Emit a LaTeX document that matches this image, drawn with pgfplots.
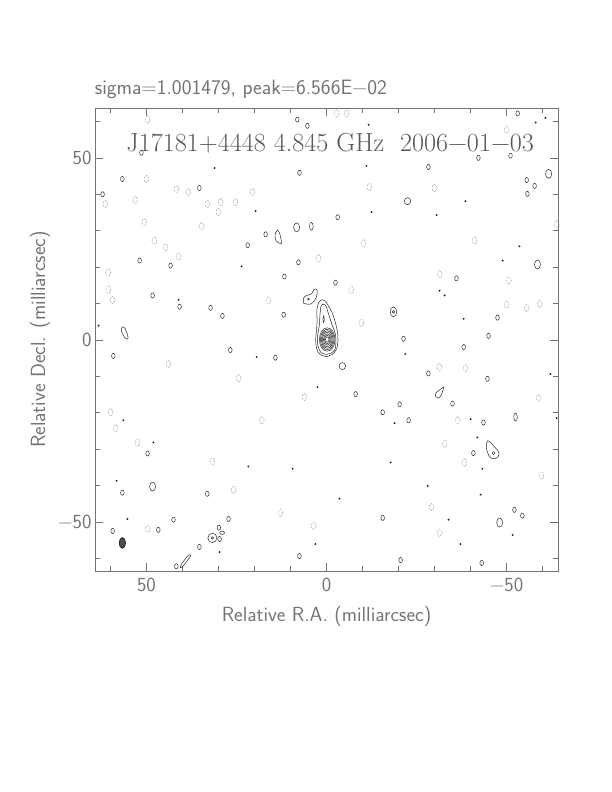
\documentclass[border=0pt]{standalone}
\usepackage{fontspec}
\usepackage{pgfplots}
\pgfplotsset{compat=1.18}
\definecolor{axgray}{gray}{0.45}
\definecolor{cgray}{gray}{0.15}
\definecolor{ngray}{gray}{0.45}
\begin{document}
\begin{tikzpicture}
\path[use as bounding box] (-95bp,-221bp) rectangle (517bp,571bp);
\begin{axis}[
  at={(0,0)}, anchor=south west,
  scale only axis, width=463bp, height=463bp,
  xmin=-64.3, xmax=64.3, x dir=reverse,
  ymin=-63.5, ymax=63.7,
  axis line style={axgray, line width=0.6bp},
  xtick={-50,0,50}, xticklabels={−50,0,50},
  ytick={-50,0,50}, yticklabels={−50,0,50},
  minor xtick={-60,-40,-30,-20,-10,10,20,30,40,60},
  minor ytick={-60,-40,-30,-20,-10,10,20,30,40,60},
  tick align=inside,
  major tick length=8bp, minor tick length=5bp,
  tick style={axgray, line width=0.6bp},
  ticklabel style={font=\sffamily\fontsize{20bp}{22bp}\selectfont, text=axgray},
  xticklabel style={yshift=-4bp},
  label style={font=\sffamily\fontsize{20.5bp}{23bp}\selectfont, text=axgray},
  xlabel={Relative R.A. (milliarcsec)},
  ylabel={Relative Decl. (milliarcsec)},
  xlabel style={at={(axis description cs:0.5,-0.099)}, anchor=center},
  ylabel style={at={(axis description cs:-0.119,0.5)}, anchor=center, rotate=0},
  clip mode=individual,
  cont/.style={cgray, line width=0.5bp},
]
% --- main source: outer contours
\addplot[cont, smooth, tension=0.55] coordinates {(0,-4.6) (1.8,-4.0) (2.7,-2.5) (3.0,0) (2.8,2.5) (2.6,5) (2.7,8) (2.2,10.2) (1.3,11) (0.3,10.6) (-0.6,9.2) (-1.6,7.4) (-2.4,5.0) (-3.0,2.5) (-3.2,0) (-2.8,-2.5) (-1.6,-4.0) (0,-4.6)};
\addplot[cont, smooth, tension=0.55] coordinates {(0,-4.0) (1.6,-3.4) (2.4,-1.5) (2.5,1) (2.0,4) (1.8,7) (1.5,9.3) (0.8,9.8) (0.1,9.2) (-0.6,7) (-1.6,4) (-2.5,1.5) (-2.6,-1) (-2.3,-2.8) (-1.4,-3.6) (0,-4.0)};
\addplot[cont, smooth] coordinates {(0.8,4.6) (1.0,5.6) (0.8,6.6) (0.6,5.6) (0.8,4.6)};
% core nested levels
\addplot[cont, only marks, mark=o, mark size=7.8bp, mark options={yscale=1.5}] coordinates {(-0.2,0.1)};
\addplot[cont, only marks, mark=o, mark size=6.8bp, mark options={yscale=1.5}] coordinates {(-0.2,0.1)};
\addplot[cont, only marks, mark=o, mark size=5.8bp, mark options={yscale=1.5}] coordinates {(-0.2,0.1)};
\addplot[cont, only marks, mark=o, mark size=4.8bp, mark options={yscale=1.5}] coordinates {(-0.2,0.1)};
\addplot[cont, only marks, mark=o, mark size=3.8bp, mark options={yscale=1.5}] coordinates {(-0.2,0.1)};
\addplot[cont, only marks, mark=o, mark size=2.8bp, mark options={yscale=1.5}] coordinates {(-0.2,0.1)};
\addplot[cont, only marks, mark=o, mark size=1.8bp, mark options={yscale=1.5}] coordinates {(-0.2,0.1)};
% jet-side component
\addplot[cont, smooth, tension=0.55] coordinates {(6.3,10.0) (6.4,11.4) (5.5,12.2) (4.2,12.6) (3.4,13.9) (2.6,13.7) (2.7,12.2) (3.3,10.8) (4.5,9.8) (6.3,10.0)};
\addplot[cont, only marks, mark=o, mark size=0.9bp] coordinates {(5.0,11.2)};
% irregular components
\addplot[cont, smooth, tension=0.55] coordinates {(-44.8,-27.7) (-45.6,-28.2) (-46.6,-29.4) (-47.6,-30.4) (-47.9,-31.6) (-47.2,-32.5) (-46.0,-32.6) (-45.1,-31.8) (-44.5,-30.2) (-44.4,-28.6) (-44.8,-27.7)};
\addplot[cont, only marks, mark=o, mark size=1.5bp] coordinates {(-46.4,-31.1)};
\addplot[cont, smooth, tension=0.55] coordinates {(-32.6,-12.9) (-32.3,-14.0) (-31.8,-15.3) (-31.0,-16.0) (-30.3,-15.6) (-30.4,-14.6) (-31.2,-13.9) (-32.6,-12.9)};
\addplot[cont, smooth, tension=0.55] coordinates {(56.7,3.6) (57.0,2.5) (56.0,0.6) (55.2,0.3) (55.2,1.2) (56.0,3.2) (56.7,3.6)};
\addplot[cont, smooth, tension=0.4] coordinates {(40.6,-62.6) (40.0,-62.3) (38.0,-59.8) (37.7,-59.2) (38.3,-59.1) (40.3,-61.6) (40.6,-62.6)};
\addplot[cont, smooth, tension=0.55] coordinates {(13.6,30.2) (14.3,29.0) (14.0,27.2) (12.6,26.4) (12.6,27.6) (13.0,29.2) (13.6,30.2)};
% double contours
\addplot[cont, only marks, mark=o, mark size=4.5bp, mark options={yscale=1.05}] coordinates {(31.7,-54.4)};
\addplot[cont, only marks, mark=o, mark size=1.2bp] coordinates {(31.7,-54.4)};
\addplot[cont, only marks, mark=o, mark size=3.3bp, mark options={yscale=1.5}] coordinates {(-18.6,7.7)};
\addplot[cont, only marks, mark=o, mark size=1.4bp] coordinates {(-18.6,7.7)};
\addplot[cont, only marks, mark=o, mark size=1.7bp, mark options={yscale=1.5}] coordinates {(29.9,-51.6)};
\addplot[cont, only marks, mark=o, mark size=2.4bp, mark options={yscale=0.7}] coordinates {(29.0,-53.0)};
% larger positive blobs
\addplot[cont, only marks, mark=o, mark size=3.0bp, mark options={yscale=1.5}] coordinates {(-61.7,45.6) (-58.6,20.7) (8.3,30.9) (48.3,-40.3) (-48.1,-50.2)};
\addplot[cont, only marks, mark=o, mark size=3.2bp, mark options={yscale=1.1}] coordinates {(-22.5,38.1) (-4.4,-7.2)};
\addplot[cont, only marks, mark=o, mark size=1.8bp, mark options={yscale=2.2}] coordinates {(-52.5,-21.2) (4.2,31.2)};
% small positive contours
\addplot[cont, only marks, mark=o, mark size=1.8bp, mark options={yscale=1.45}] coordinates {
(8.1,60.5) (5.3,58.8) (51.4,51.4) (56.7,44.2) (7.5,45.9) (62.2,40.0) (35.3,41.7) (16.9,29.0) (21.9,26.0) (51.9,21.8) (43.3,20.4) (7.8,21.3) (11.7,17.4) (48.3,12.2) (32.2,8.8) (28.9,6.6) (11.9,6.9) (40.8,9.1)
(-53.1,62.2) (-42.2,50.0) (-51.1,50.6) (-28.3,47.5) (-55.6,43.9) (-57.8,42.3) (-55.8,40.1) (-3.1,33.7) (-36.1,16.9) (-2.5,15.7) (-47.5,6.1) (-45.0,1.1) (-21.4,0.3)
(59.2,-4.4) (26.7,-2.8) (14.2,-4.9) (49.7,-31.2) (56.7,-42.0) (33.1,-42.3) (42.5,-49.4) (59.4,-52.5) (46.7,-52.2) (27.2,-49.2) (29.7,-54.7) (35.3,-56.9) (7.5,-59.4) (41.7,-62.2)
(-38.1,-2.0) (-28.3,-9.2) (-44.7,-10.7) (-8.1,-14.9) (-35.0,-17.5) (-15.6,-19.9) (-20.3,-17.7) (-22.8,-22.1) (-43.6,-22.7) (-40.8,-31.1) (-52.2,-46.7) (-54.4,-48.3) (-15.6,-48.9) (-20.6,-60.5) (-43.1,-61.3)
};
% tiny positive contours
\addplot[cont, only marks, mark=*, mark size=0.7bp] coordinates {
(31.1,47.2) (19.7,35.4) (23.6,20.2) (41.1,11.0) (63.3,3.9)
(-11.7,59.1) (-58.1,59.7) (-60.8,61.0) (-11.1,47.8) (-12.5,35.1) (-30.6,34.3) (-38.6,38.1) (-53.6,25.7) (-48.9,21.8) (-31.4,13.5) (-32.8,12.2) (-38.1,5.8)
(19.4,-4.7) (2.5,-13.0) (56.4,-22.1) (48.1,-28.2) (21.7,-34.8) (9.4,-35.4) (58.3,-38.7) (55.3,-49.2) (3.1,-56.1) (29.7,-58.3)
(-21.9,-3.9) (-62.2,-9.4) (-18.9,-22.9) (-40.0,-21.8) (-41.9,-26.8) (-43.3,-35.4) (-17.8,-33.7) (-28.1,-40.1) (-42.8,-42.5) (-3.6,-43.6) (-33.9,-49.4) (-51.7,-53.6) (-37.2,-56.1) (-63.9,-21.5)
};
% negative contours (dotted)
\addplot[ngray, line width=0.5bp, only marks, mark=o, mark size=2.4bp, mark options={densely dotted, yscale=1.5}] coordinates {
(49.7,60.5) (50.0,44.2) (53.1,38.4) (61.4,37.3) (38.3,40.6) (41.7,41.4) (33.1,37.3) (29.4,37.8) (25.3,37.8) (20.6,40.6) (30.0,35.1) (34.7,31.2) (50.6,32.3) (47.8,27.3) (44.7,25.4) (41.1,22.9) (60.6,18.5) (60.6,13.8) (59.4,11.0) (16.1,10.8) (2.2,22.4)
(-2.8,62.2) (-5.6,62.2) (-11.9,42.0) (-30.0,41.7) (-50.0,57.7) (-10.3,26.5) (-41.1,27.3) (-63.9,31.8) (-31.4,18.0) (-50.6,16.3) (-6.9,13.8) (-50.0,9.7) (-55.6,8.8) (-59.2,9.9) (-9.7,4.7)
(43.9,-6.6) (24.4,-10.5) (6.1,-15.7) (60.0,-19.9) (58.6,-24.3) (52.5,-28.2) (18.0,-22.1) (31.7,-33.4) (25.8,-41.2) (12.8,-47.5) (49.7,-51.9) (3.6,-51.1)
(-31.4,-7.5) (-38.6,-7.7) (-58.9,-16.0) (-36.4,-22.1) (-32.8,-28.5) (-38.3,-33.7) (-59.7,-37.3) (-29.2,-45.9) (-31.4,-53.0)
};
% beam
\addplot[only marks, mark=*, mark size=3.2bp, mark options={yscale=1.7, fill=black!70, draw=black, line width=0.5bp}] coordinates {(56.7,-55.8)};
% texts
\node[text=black!65, font=\fontsize{26.2bp}{29bp}\selectfont] at (rel axis cs:0.508,0.924) {J17181+4448 4.845 GHz \ 2006−01−03};
\node[anchor=west, text=axgray, font=\sffamily\fontsize{20.8bp}{23bp}\selectfont] at (rel axis cs:-0.008,1.04) {sigma=1.001479, peak=6.566E−02};
\end{axis}
\end{tikzpicture}
\end{document}
